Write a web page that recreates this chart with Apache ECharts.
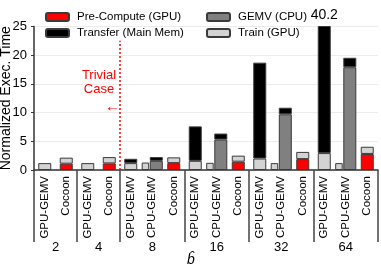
<!DOCTYPE html>
<html>
<head>
<meta charset="utf-8">
<script src="https://cdn.jsdelivr.net/npm/echarts@6/dist/echarts.min.js"></script>
<style>
html,body{margin:0;padding:0;background:#fff;}
#chart{width:381px;height:269px;}
</style>
</head>
<body>
<div id="chart"></div>
<script>
// ---- data ----
const categories = ['GPU-GEMV','Cocoon','GPU-GEMV','Cocoon','GPU-GEMV','CPU-GEMV','Cocoon','GPU-GEMV','CPU-GEMV','Cocoon','GPU-GEMV','CPU-GEMV','Cocoon','GPU-GEMV','CPU-GEMV','Cocoon'];
const groups = ['2','4','8','16','32','64'];
const groupSizes = [2,2,3,3,3,3];
// stacks for GPU-GEMV and Cocoon
const preCompute   = [null,1.1,null,1.15,null,null,1.2,null,null,1.45,null,null,1.9,null,null,2.8];
const trainMain    = [1.2,1.05,1.2,1.1,1.2,null,1.0,1.6,null,1.05,2.0,null,1.25,2.95,null,1.25];
const transferMain = [null,null,null,null,0.75,null,null,6.0,null,null,16.7,null,null,37.25,null,null];
// CPU-GEMV bars
const trainCPU     = [null,null,null,null,null,1.3,null,null,1.25,null,null,1.2,null,null,1.2,null];
const gemvCPU      = [null,null,null,null,null,1.6,null,null,5.3,null,null,9.7,null,null,17.9,null];
const transferCPU  = [null,null,null,null,null,0.65,null,null,1.05,null,null,1.15,null,null,1.65,null];
const yTicks = [0,5,10,15,20,25];
const trivialBoundary = 4;   // category boundary for "Trivial Case"
const trivialTop = 22.5;

// ---- derived ----
const catKeys = categories.map((c,i)=>c+'#'+i);
const bounds = [0]; groupSizes.forEach(s=>bounds.push(bounds[bounds.length-1]+s));
const centers = groupSizes.map((s,i)=>bounds[i]+s/2);
const nCat = categories.length;
const yMin = yTicks[0], yMax = yTicks[yTicks.length-1], yStep = yTicks[1]-yTicks[0];

const C_RED='#ff0000', C_BLACK='#000000', C_DARK='#808080', C_LIGHT='#d3d3d3', C_BORDER='#3a3a3a';
const FONT='Liberation Sans, Arial, sans-serif';
function st(color){return {color:color,borderColor:C_BORDER,borderWidth:1};}

const baseGraphic = [
  {type:'text',x:99,y:68,z:100,style:{text:'Trivial\nCase',fill:'#ff0000',font:'13px '+FONT,textAlign:'center',lineHeight:14}},
  {type:'text',x:105,y:99,z:100,style:{text:'\u2190',fill:'#ff0000',font:'15px '+FONT}}
];

const chart = echarts.init(document.getElementById('chart'), null, {renderer:'canvas'});
const option = {
  animation:false,
  textStyle:{fontFamily:FONT},
  grid:{left:34,right:3,top:26.5,bottom:99,outerBoundsMode:'none'},
  legend:[
    {orient:'vertical',left:40,top:5,itemWidth:23,itemHeight:8,itemGap:2,
     data:['Pre-Compute (GPU)','Transfer (Main Mem)'],
     textStyle:{fontSize:11.5,fontFamily:FONT,color:'#000',lineHeight:14,padding:[0,0,0,3]}},
    {orient:'vertical',left:201,top:5,itemWidth:23,itemHeight:8,itemGap:2,
     data:['GEMV (CPU)','Train (GPU)'],
     textStyle:{fontSize:11.5,fontFamily:FONT,color:'#000',lineHeight:14,padding:[0,0,0,3]}}
  ],
  xAxis:[
    {type:'category',data:catKeys,position:'bottom',
     axisLine:{onZero:false,lineStyle:{color:'#333',width:1.5}},
     axisTick:{show:false},
     axisLabel:{rotate:90,fontSize:11.5,color:'#000',margin:6,interval:0,fontFamily:FONT,
       formatter:(v)=>v.split('#')[0]}},
    {type:'category',data:catKeys,show:false},
    {type:'value',min:0,max:nCat,position:'bottom',
     axisLine:{show:false,onZero:false},splitLine:{show:false},
     axisTick:{show:true,customValues:bounds,length:72,lineStyle:{color:'#444',width:1.5}},
     axisLabel:{show:true,customValues:centers,margin:71,fontSize:13,color:'#000',fontFamily:FONT,
       formatter:(v)=>{const i=centers.indexOf(v);return i>=0?groups[i]:'';}},
     name:'b\u0302',nameLocation:'middle',nameGap:83,nameMoveOverlap:false,
     nameTextStyle:{fontSize:14,fontStyle:'italic',color:'#000',fontFamily:FONT,padding:[0,30,0,0]}}
  ],
  yAxis:[
    {type:'value',min:yMin,max:yMax,interval:yStep,position:'left',
     axisLine:{show:true,onZero:false,lineStyle:{color:'#333',width:1.5}},
     axisTick:{show:true,length:3,lineStyle:{color:'#333'}},
     axisLabel:{show:false},
     splitLine:{show:true,lineStyle:{color:'#ececec'}}},
    {type:'value',min:yMin,max:yMax,interval:yStep,position:'left',
     name:'Normalized Exec. Time',nameLocation:'middle',nameGap:21,nameMoveOverlap:false,
     nameTextStyle:{fontSize:14,color:'#000',fontFamily:FONT},
     axisLine:{show:false,onZero:false},axisTick:{show:false},axisLabel:{show:false},splitLine:{show:false}}
  ],
  series:[
    {name:'Pre-Compute (GPU)',type:'bar',xAxisIndex:0,stack:'main',barWidth:13,data:preCompute,itemStyle:st(C_RED)},
    {name:'Train (GPU)',type:'bar',xAxisIndex:0,stack:'main',barWidth:13,data:trainMain,itemStyle:st(C_LIGHT)},
    {name:'Transfer (Main Mem)',type:'bar',xAxisIndex:0,stack:'main',barWidth:13,itemStyle:st(C_BLACK),
     data:transferMain.map((v,i)=>{
       const total=(v||0)+(trainMain[i]||0)+(preCompute[i]||0);
       if(v!=null && total>yMax){return {value:v,label:{show:true,position:'top',distance:4,fontSize:14,color:'#000',
         formatter:total.toFixed(1)}};}
       return v;})},
    {name:'Train (GPU)',type:'bar',xAxisIndex:1,stack:'cpuTrain',barWidth:7.5,barGap:'8%',data:trainCPU,itemStyle:st(C_LIGHT)},
    {name:'GEMV (CPU)',type:'bar',xAxisIndex:1,stack:'cpu',barWidth:13,barGap:'8%',data:gemvCPU,itemStyle:st(C_DARK)},
    {name:'Transfer (Main Mem)',type:'bar',xAxisIndex:1,stack:'cpu',barWidth:13,barGap:'8%',data:transferCPU,itemStyle:st(C_BLACK)},
    {name:'trivial',type:'line',xAxisIndex:2,yAxisIndex:0,symbol:'none',silent:true,z:5,
     data:[[trivialBoundary,0],[trivialBoundary,trivialTop]],
     lineStyle:{color:'#ff0000',width:1.5,type:[2,2]}}
  ],
  graphic:{elements:baseGraphic}
};
chart.setOption(option);

// y tick labels placed through the library's own axis scale
const xAxisPx = chart.convertToPixel({xAxisIndex:2}, 0);
const tickLabels = yTicks.map(v=>({
  type:'text', z:100,
  x: xAxisPx - 7,
  y: chart.convertToPixel({yAxisIndex:0}, v),
  style:{text:String(v), fill:'#000', font:'13px '+FONT, textAlign:'right', textVerticalAlign:'middle'}
}));
chart.setOption({graphic:{elements:baseGraphic.concat(tickLabels)}});
</script>
</body>
</html>
